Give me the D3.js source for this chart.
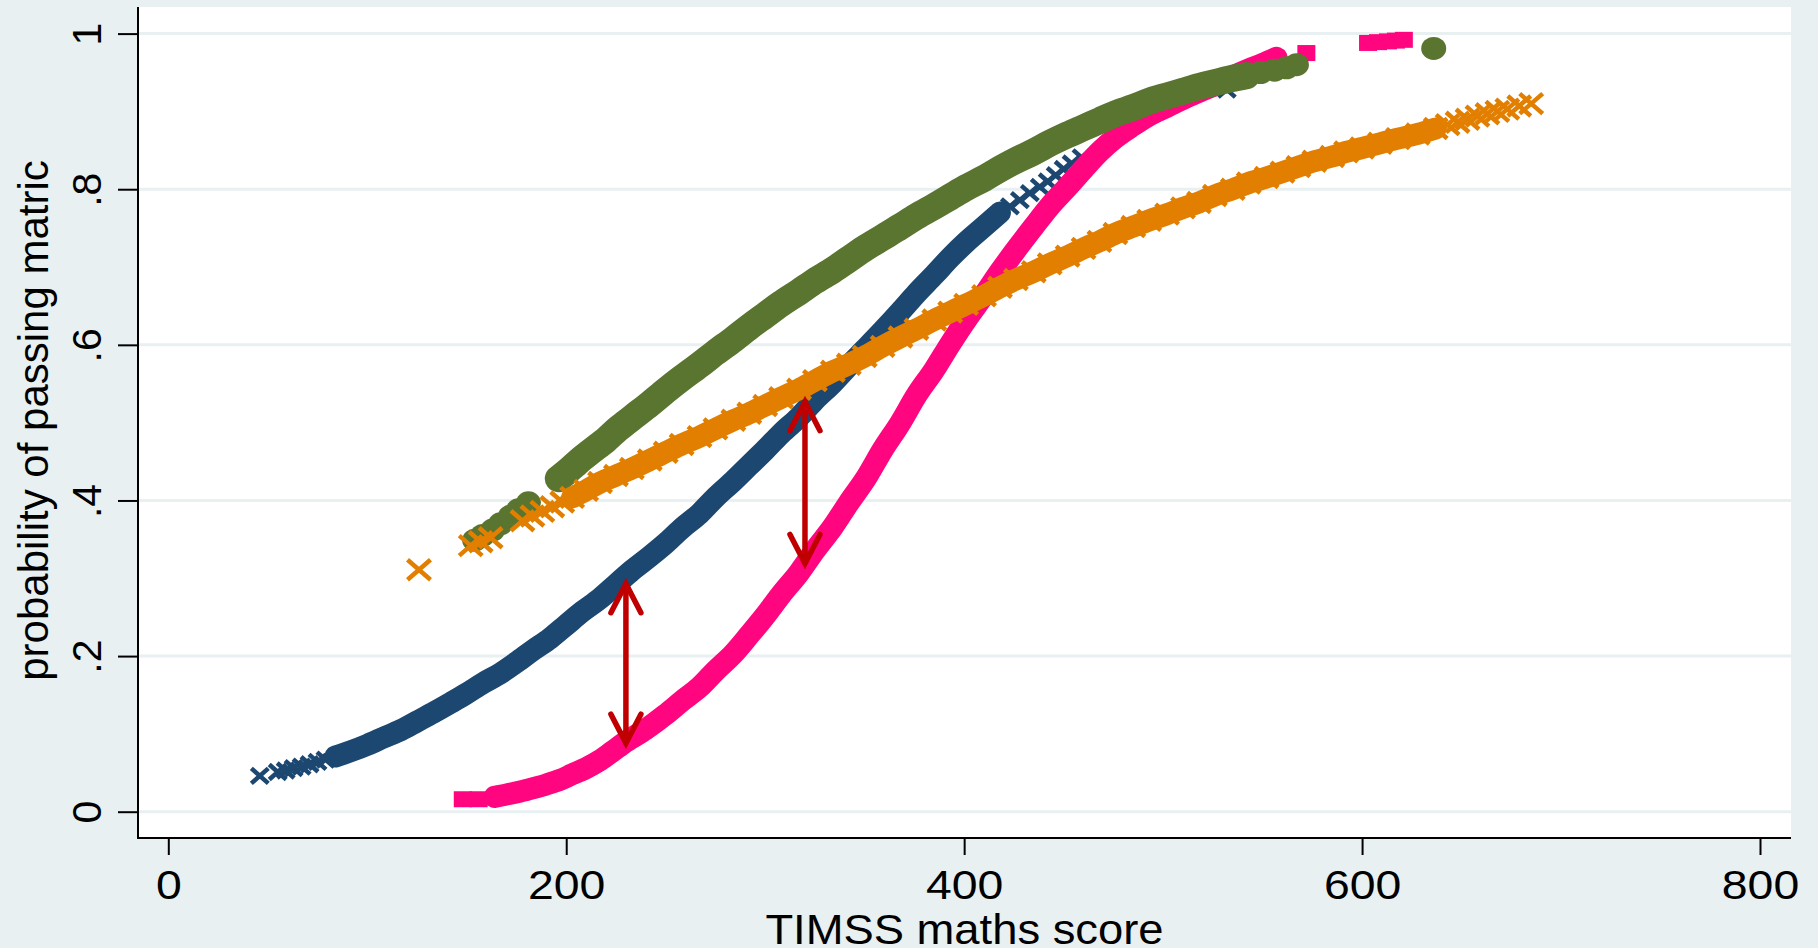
<!DOCTYPE html>
<html>
<head>
<meta charset="utf-8">
<script src="https://cdn.jsdelivr.net/npm/d3@7"></script>
<style>
  html, body { margin: 0; padding: 0; background: #E8F0F2; }
  svg { display: block; }
  text { font-family: "Liberation Sans", Arial, Helvetica, sans-serif; fill: #000; }
</style>
</head>
<body>
<svg id="chart" width="1818" height="948"></svg>
<script>
// ---- axis ticks ----
const xTicks = [0, 200, 400, 600, 800];
const yTicks = [0, 0.2, 0.4, 0.6, 0.8, 1];
const yTickLabels = ["0", ".2", ".4", ".6", ".8", "1"];
const xTitle = "TIMSS maths score";
const yTitle = "probability of passing matric";

// ---- predicted probabilities: [TIMSS score, probability] ----
// series 1 (navy crosses)
const blueStart = [[46,.046],[55,.051],[59,.053],[63,.056],[67,.058],[71,.061],[75,.064],[79,.067]];
const blueCurve = [[84,.071],[92,.078],[100,.086],[108,.095],[117,.105],[125,.116],[133,.127],[142,.140],[150,.152],[158,.165],[167,.178],[175,.192],[183,.207],[192,.223],[200,.240],[208,.257],[217,.274],[225,.292],[233,.310],[242,.328],[250,.345],[258,.364],[267,.383],[275,.404],[284,.425],[292,.445],[300,.465],[308,.486],[317,.507],[325,.529],[334,.551],[342,.573],[350,.594],[359,.618],[368,.643],[376,.666],[385,.690],[393,.712],[401,.732],[410,.752],[418,.770]];
const blueEnd = [[423,.778],[428,.786],[433,.795],[438,.803],[442,.810],[446,.818],[450,.826],[454,.833],[459,.841],[483,.886],[532,.928]];

// series 2 (pink squares)
const pinkStart = [[148,.016],[156,.016]];
const pinkCurve = [[164,.019],[170,.022],[177,.026],[183,.030],[190,.035],[197,.041],[203,.048],[210,.056],[217,.066],[223,.077],[230,.090],[240,.106],[250,.125],[258,.142],[267,.160],[275,.181],[284,.203],[292,.227],[300,.252],[308,.279],[317,.307],[325,.336],[334,.366],[342,.397],[351,.430],[359,.465],[368,.500],[376,.535],[385,.568],[393,.601],[401,.632],[410,.664],[418,.694],[426,.722],[435,.752],[443,.778],[452,.803],[460,.826],[468,.848],[476,.866],[485,.882],[493,.895],[502,.906],[510,.916],[518,.925],[527,.935],[535,.945],[543,.954],[550,.961],[557,.969]];
const pinkEnd = [[572,.975],[603,.988],[608,.989],[613,.990],[617,.991],[621,.992]];

// series 3 (green circles)
const greenStart = [[154,.349],[158,.355],[163,.362],[167,.370],[172,.380],[176,.388],[181,.397]];
const greenCurve = [[196,.428],[200,.436],[204,.445],[208,.454],[212,.462],[216,.470],[220,.478],[226,.492],[230,.500],[234,.508],[242,.524],[250,.541],[258,.557],[267,.574],[275,.590],[284,.607],[292,.623],[300,.638],[308,.653],[317,.668],[325,.682],[334,.696],[342,.710],[350,.724],[359,.738],[368,.752],[376,.765],[385,.778],[393,.790],[401,.802],[410,.814],[418,.826],[426,.837],[435,.848],[443,.859],[452,.870],[460,.879],[468,.888],[476,.897],[485,.905],[493,.913],[502,.920],[510,.926],[518,.932],[526,.937],[534,.942],[542,.946]];
const greenEnd = [[549,.950],[556,.953],[562,.956],[567,.960],[636,.981]];

// series 4 (orange crosses)
const orangeStart = [[126,.311],[152,.342],[157,.347],[162,.352],[178,.374],[183,.380],[188,.386],[193,.392],[198,.398]];
const orangeCurve = [[203,.404],[210,.413],[217,.423],[225,.432],[233,.441],[242,.452],[250,.462],[258,.472],[267,.482],[275,.492],[284,.503],[292,.512],[300,.522],[308,.532],[317,.543],[325,.554],[334,.566],[342,.575],[350,.585],[359,.598],[368,.610],[376,.620],[385,.632],[393,.642],[401,.652],[410,.663],[418,.674],[426,.684],[435,.694],[443,.704],[452,.714],[460,.724],[468,.733],[476,.743],[485,.752],[493,.760],[502,.768],[510,.776],[518,.783],[526,.792],[535,.800],[543,.808],[552,.815],[560,.822],[568,.829],[576,.836],[585,.842],[592,.848],[600,.853],[609,.859],[618,.865],[628,.871],[637,.878]];
const orangeEnd = [[643,.883],[648,.886],[653,.890],[658,.894],[663,.897],[668,.900],[673,.903],[679,.907],[685,.910]];

// double-headed gap arrows
const arrowScores = [230, 320];
const arrowLow = [0.088, 0.319];
const arrowHigh = [0.293, 0.527];

// ---- layout ----
const W = 1818, H = 948;
const frame = { left: 138, right: 1791, top: 7, bottom: 838 };
const bg = "#E8F0F2";

const x = d3.scaleLinear().domain([0, 800]).range([168.3, 1760]);
const y = d3.scaleLinear().domain([0, 1]).range([811.7, 33.6]);

const svg = d3.select("#chart");
svg.append("rect").attr("width", W).attr("height", H).attr("fill", bg);

// plot region
svg.append("rect")
  .attr("x", frame.left).attr("y", frame.top)
  .attr("width", frame.right - frame.left).attr("height", frame.bottom - frame.top)
  .attr("fill", "#fff");

// horizontal grid
svg.append("g").selectAll("line").data(yTicks).join("line")
  .attr("x1", frame.left).attr("x2", frame.right)
  .attr("y1", d => y(d)).attr("y2", d => y(d))
  .attr("stroke", bg).attr("stroke-width", 3);

// ---- series: a thick band through the dense run, markers where points stand apart ----
const series = [
  { pts: [blueStart, blueCurve, blueEnd], color: "#1C4770", marker: "x", a: 8.5, b: 7.5, sw: 4.5, band: 22, markCurve: false },
  { pts: [pinkStart, pinkCurve, pinkEnd], color: "#FF0680", marker: "square", a: 9, b: 8, band: 22, markCurve: false },
  { pts: [greenStart, greenCurve, greenEnd], color: "#597530", marker: "circle", a: 12.5, b: 11.5, band: 27, markCurve: false },
  { pts: [orangeStart, orangeCurve, orangeEnd], color: "#E27F00", marker: "x", a: 11.5, b: 10, sw: 4.5, band: 22, markCurve: true }
];

const line = d3.line().x(d => x(d[0])).y(d => y(d[1])).curve(d3.curveMonotoneX);

series.forEach(s => {
  const g = svg.append("g");
  const [start, curve, end] = s.pts;
  g.append("path").attr("d", line(curve))
    .attr("fill", "none").attr("stroke", s.color)
    .attr("stroke-width", s.band).attr("stroke-linecap", "round").attr("stroke-linejoin", "round");
  const pts = s.markCurve ? start.concat(curve, end) : start.concat(end);
  const m = g.selectAll(".m").data(pts).join("g")
    .attr("transform", d => `translate(${x(d[0])},${y(d[1])})`);
  if (s.marker === "x") {
    m.append("path")
      .attr("d", `M${-s.a},${-s.b}L${s.a},${s.b}M${-s.a},${s.b}L${s.a},${-s.b}`)
      .attr("stroke", s.color).attr("stroke-width", s.sw).attr("fill", "none");
  } else if (s.marker === "square") {
    m.append("rect").attr("x", -s.a).attr("y", -s.b).attr("width", 2 * s.a).attr("height", 2 * s.b)
      .attr("fill", s.color);
  } else {
    m.append("ellipse").attr("rx", s.a).attr("ry", s.b).attr("fill", s.color);
  }
});

// ---- arrows ----
const red = "#C00000";
const ag = svg.append("g").attr("stroke", red).attr("stroke-width", 5.5)
  .attr("stroke-linecap", "round").attr("fill", "none");
arrowScores.forEach((sc, i) => {
  const ax = x(sc), yTop = y(arrowHigh[i]), yBot = y(arrowLow[i]);
  ag.append("line").attr("x1", ax).attr("x2", ax).attr("y1", yTop + 2).attr("y2", yBot - 2);
  ag.append("path").attr("d", `M${ax - 15},${yTop + 29}L${ax},${yTop}L${ax + 15},${yTop + 29}`)
    .attr("stroke-linejoin", "miter");
  ag.append("path").attr("d", `M${ax - 15},${yBot - 29}L${ax},${yBot}L${ax + 15},${yBot - 29}`)
    .attr("stroke-linejoin", "miter");
});

// ---- axes ----
const axisColor = "#000";
svg.append("line").attr("x1", frame.left).attr("x2", frame.left)
  .attr("y1", frame.top).attr("y2", frame.bottom + 1)
  .attr("stroke", axisColor).attr("stroke-width", 2);
svg.append("line").attr("x1", frame.left - 1).attr("x2", frame.right)
  .attr("y1", frame.bottom).attr("y2", frame.bottom)
  .attr("stroke", axisColor).attr("stroke-width", 2);

const xAxis = svg.append("g").attr("transform", `translate(0,${frame.bottom})`)
  .call(d3.axisBottom(x).tickValues(xTicks).tickSize(17).tickFormat(d3.format("d")));
xAxis.select(".domain").remove();
xAxis.selectAll(".tick line").attr("stroke", axisColor).attr("stroke-width", 2);
xAxis.selectAll(".tick text")
  .attr("y", 61).attr("dy", null)
  .attr("transform", "scale(1.16,1)")
  .style("font-size", "40px").attr("font-family", null);

const yAxis = svg.append("g").attr("transform", `translate(${frame.left},0)`)
  .call(d3.axisLeft(y).tickValues(yTicks).tickSize(20).tickFormat((d, i) => yTickLabels[i]));
yAxis.select(".domain").remove();
yAxis.selectAll(".tick line").attr("stroke", axisColor).attr("stroke-width", 2);
yAxis.selectAll(".tick text")
  .attr("x", null).attr("dy", null)
  .attr("text-anchor", "middle")
  .attr("transform", "translate(-37,0) rotate(-90)")
  .style("font-size", "41px").attr("font-family", null);

// ---- titles ----
svg.append("text")
  .attr("transform", `translate(${(frame.left + frame.right) / 2},944) scale(1.08,1)`)
  .attr("text-anchor", "middle").style("font-size", "42px").text(xTitle);
svg.append("text")
  .attr("transform", `translate(48,${(frame.top + frame.bottom) / 2 - 2}) rotate(-90)`)
  .attr("text-anchor", "middle").style("font-size", "42px").text(yTitle);
</script>
</body>
</html>
